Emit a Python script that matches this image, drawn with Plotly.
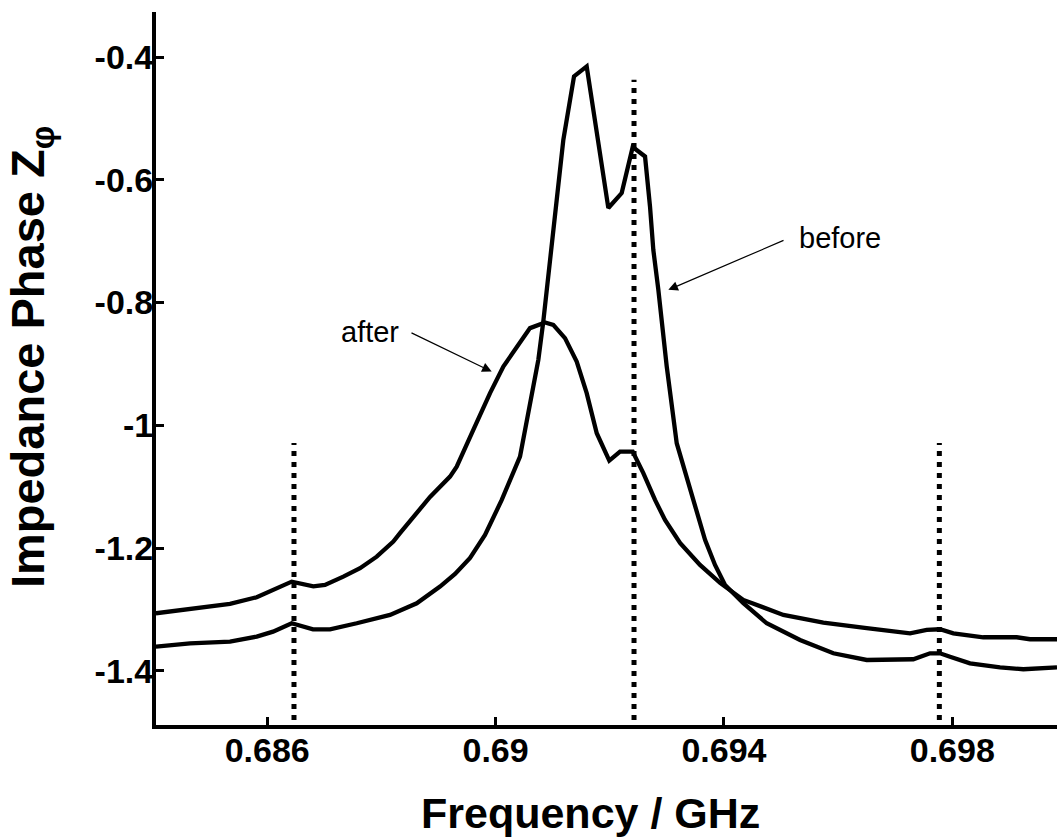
import plotly.graph_objects as go

# ---- data (frequency in GHz, impedance phase) ----
before_f = [0.68405, 0.684648, 0.685348, 0.685816, 0.686102, 0.686429, 0.686802, 0.6871,
            0.687568, 0.688151, 0.688619, 0.689027, 0.68929, 0.689553, 0.689815, 0.690108,
            0.690428, 0.690603, 0.690749, 0.690836, 0.690924, 0.691187, 0.691374, 0.691596,
            0.691975, 0.692209, 0.692402, 0.692618, 0.692705, 0.692763, 0.692851, 0.692998,
            0.693173, 0.693464, 0.693669, 0.693844, 0.694019, 0.69434, 0.694749, 0.695333,
            0.695916, 0.696501, 0.697317, 0.69761, 0.697785, 0.69796, 0.69831, 0.698836,
            0.699244, 0.699834]
before_z = [-1.3604, -1.3549, -1.3523, -1.3441, -1.336, -1.3223, -1.3321, -1.3321,
            -1.3223, -1.3087, -1.2897, -1.2626, -1.2419, -1.2159, -1.1784, -1.1214,
            -1.0508, -0.9693, -0.8932, -0.8308, -0.7575, -0.5348, -0.4316, -0.4153,
            -0.646, -0.6216, -0.5467, -0.562, -0.6434, -0.714, -0.7792, -0.9042,
            -1.029, -1.1214, -1.1865, -1.2273, -1.2599, -1.2897, -1.3223, -1.3495,
            -1.3712, -1.3821, -1.3809, -1.3712, -1.3712, -1.3767, -1.3875, -1.394,
            -1.3972, -1.394]

after_f = [0.68405, 0.684648, 0.685348, 0.685816, 0.686107, 0.686429, 0.686808, 0.687012,
           0.687333, 0.687626, 0.687918, 0.688209, 0.688326, 0.688589, 0.688852, 0.689202,
           0.689319, 0.68961, 0.689903, 0.690136, 0.69037, 0.690603, 0.690866, 0.691011,
           0.691216, 0.691421, 0.691596, 0.691772, 0.691992, 0.69218, 0.692402, 0.692588,
           0.692793, 0.692968, 0.693231, 0.693581, 0.693932, 0.69434, 0.695041, 0.695741,
           0.696501, 0.69726, 0.697552, 0.697785, 0.698018, 0.698543, 0.699128, 0.699361,
           0.699834]
after_z = [-1.306, -1.2995, -1.2908, -1.2799, -1.268, -1.2545, -1.2623, -1.2599,
           -1.2463, -1.2327, -1.2138, -1.1893, -1.1756, -1.1458, -1.1165, -1.0834,
           -1.0671, -1.0073, -0.9475, -0.9042, -0.8716, -0.8416, -0.8325, -0.8362,
           -0.8579, -0.896, -0.9475, -1.0127, -1.0573, -1.0427, -1.0427, -1.0778,
           -1.1214, -1.154, -1.1914, -1.2273, -1.2566, -1.2843, -1.3087, -1.3213,
           -1.3304, -1.3386, -1.3332, -1.3321, -1.3386, -1.3451, -1.3451, -1.3483,
           -1.3483]

# vertical dotted markers
marker_f = [0.686469, 0.692425, 0.697773]
marker_top = [-1.0285, -0.437, -1.0285]
marker_bottom = -1.48

x_ticks = [0.686, 0.69, 0.694, 0.698]
x_ticktext = ["0.686", "0.69", "0.694", "0.698"]
y_ticks = [-0.4, -0.6, -0.8, -1.0, -1.2, -1.4]
y_ticktext = ["-0.4", "-0.6", "-0.8", "-1", "-1.2", "-1.4"]

x_range = [0.684052, 0.699834]
y_range = [-1.488, -0.3267]

FONT = "Liberation Sans, Arial, Helvetica, sans-serif"

fig = go.Figure()

for f, top in zip(marker_f, marker_top):
    fig.add_trace(go.Scatter(x=[f, f], y=[marker_bottom, top], mode="lines",
                             line=dict(color="black", width=5, dash="5px,6px"),
                             showlegend=False, hoverinfo="skip"))

fig.add_trace(go.Scatter(x=after_f, y=after_z, mode="lines", name="after",
                         line=dict(color="black", width=4.3), showlegend=False))
fig.add_trace(go.Scatter(x=before_f, y=before_z, mode="lines", name="before",
                         line=dict(color="black", width=4.3), showlegend=False))

# arrows
fig.add_annotation(x=0.693026, y=-0.7792, ax=0.69507, ay=-0.6977, xref="x", yref="y",
                   axref="x", ayref="y", text="", showarrow=True, arrowhead=2,
                   arrowsize=1.6, arrowwidth=1.2, arrowcolor="black")
fig.add_annotation(x=0.689932, y=-0.9123, ax=0.688501, ay=-0.8481, xref="x", yref="y",
                   axref="x", ayref="y", text="", showarrow=True, arrowhead=2,
                   arrowsize=1.6, arrowwidth=1.2, arrowcolor="black")
fig.add_annotation(x=0.696033, y=-0.695, xref="x", yref="y", text="before",
                   showarrow=False, xanchor="center", yanchor="middle",
                   font=dict(family=FONT, size=29, color="black"))
fig.add_annotation(x=0.687801, y=-0.848, xref="x", yref="y", text="after",
                   showarrow=False, xanchor="center", yanchor="middle",
                   font=dict(family=FONT, size=29, color="black"))

# axis titles
fig.add_annotation(x=0.4817, y=-0.124, xref="paper", yref="paper",
                   text="Frequency / GHz", showarrow=False,
                   xanchor="center", yanchor="middle",
                   font=dict(family=FONT, size=43, color="black", weight="bold"))
fig.add_annotation(x=-0.1387, y=0.516, xref="paper", yref="paper", textangle=-90,
                   text="Impedance Phase Z<sub>φ</sub>", showarrow=False,
                   xanchor="center", yanchor="middle",
                   font=dict(family=FONT, size=47, color="black", weight="bold"))

axis_common = dict(showline=True, linecolor="black", linewidth=4, ticks="inside",
                   ticklen=8, tickwidth=3, tickcolor="black", showgrid=False,
                   zeroline=False, mirror=False,
                   tickfont=dict(family=FONT, size=34, color="black", weight="bold"))

fig.update_xaxes(range=x_range, tickvals=x_ticks, ticktext=x_ticktext,
                 ticklabelstandoff=-8, **axis_common)
fig.update_yaxes(range=y_range, tickvals=y_ticks, ticktext=y_ticktext,
                 ticklabelstandoff=-8, **axis_common)

fig.update_layout(width=1057, height=839, margin=dict(l=156, r=0, t=12, b=114),
                  plot_bgcolor="white", paper_bgcolor="white", showlegend=False)

fig.write_html("out.html")
